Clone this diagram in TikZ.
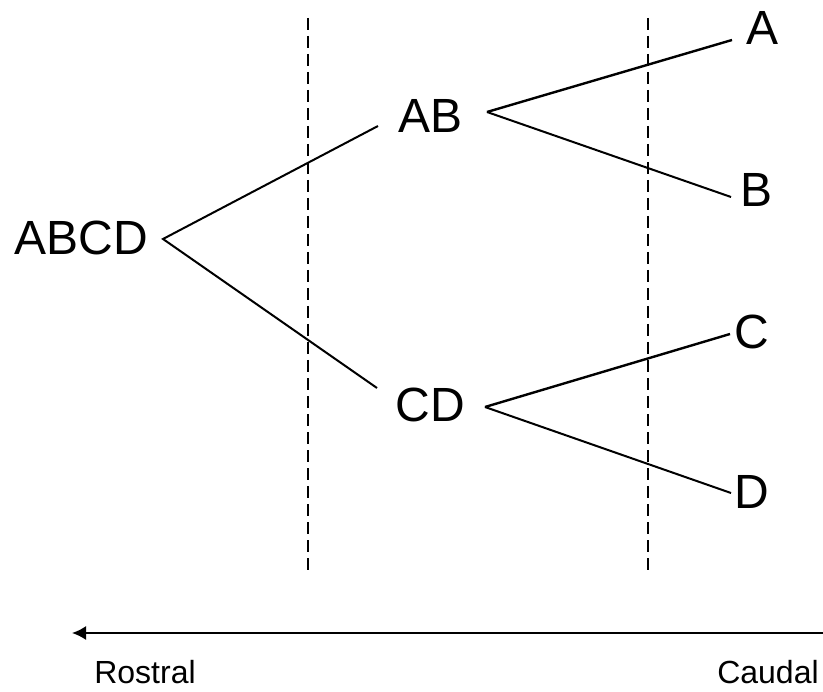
\documentclass[tikz,border=0pt]{standalone}
\usepackage{fontspec}
\setmainfont{Liberation Sans}
\usepackage{tikz}
\usetikzlibrary{arrows,arrows.meta,positioning}

\begin{document}
\begin{tikzpicture}[x=50pt,y=50pt,
	lbl/.style={anchor=base,inner sep=0pt,font=\fontsize{24}{28}\selectfont},
	dirlbl/.style={anchor=base,inner sep=0pt,font=\fontsize{16}{19}\selectfont},
	branch/.style={black,line width=1pt},
	border/.style={black,line width=1.2pt,dash pattern=on 6pt off 3pt}]

	\useasboundingbox (0,0) rectangle (8.23,6.91);

	\node[lbl] (abcd) at (0.815,4.36) {ABCD};
	\node[lbl] (ab) at (4.305,5.58) {AB};
	\node[lbl] (cd) at (4.305,2.70) {CD};
	\node[lbl] (a) at (7.62,6.46) {A};
	\node[lbl] (b) at (7.56,4.84) {B};
	\node[lbl] (c) at (7.52,3.43) {C};
	\node[lbl] (d) at (7.52,1.83) {D};

	\coordinate (abcd0) at (1.63,4.52);
	\coordinate (ab1) at (3.78,5.65);
	\coordinate (cd1) at (3.77,3.03);
	\coordinate (ab0) at (4.87,5.79);
	\coordinate (cd0) at (4.85,2.84);
	\coordinate (a1) at (7.32,6.51);
	\coordinate (b1) at (7.31,4.94);
	\coordinate (c1) at (7.30,3.57);
	\coordinate (d1) at (7.31,1.98);

	\draw[branch] (ab1) -- (abcd0) -- (cd1);
	\draw[branch,line width=1.2pt] (a1) -- (ab0);
	\draw[branch] (ab0) -- (b1);
	\draw[branch,line width=1.2pt] (c1) -- (cd0);
	\draw[branch] (cd0) -- (d1);

	\coordinate (top1) at (3.08,6.73);
	\coordinate (bot1) at (3.08,1.18);
	\coordinate (top2) at (6.48,6.73);
	\coordinate (bot2) at (6.48,1.18);
	\draw[border] (top1) -- (bot1);
	\draw[border] (top2) -- (bot2);

	\node[dirlbl] (rostral) at (1.45,0.08) {Rostral};
	\node[dirlbl] (caudal) at (7.68,0.08) {Caudal};
	\coordinate (caudalend) at (8.23,0.58);
	\coordinate (rostralend) at (0.72,0.58);
	\draw[-{Latex[length=7pt,width=7pt]},line width=0.9pt] (caudalend) -- (rostralend);

\end{tikzpicture}
\end{document}
